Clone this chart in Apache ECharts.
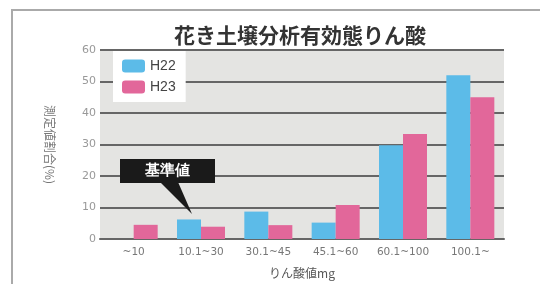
<!DOCTYPE html>
<html>
<head>
<meta charset="utf-8">
<script src="https://cdn.jsdelivr.net/npm/echarts@6/dist/echarts.min.js"></script>
<style>
  html, body { margin: 0; padding: 0; background: #fff; }
  #chart { width: 540px; height: 284px; }
</style>
</head>
<body>
<div id="chart"></div>
<script>
var categories = ['~10', '10.1~30', '30.1~45', '45.1~60', '60.1~100', '100.1~']
var h22 = [0, 6.2, 8.7, 5.2, 29.8, 52]
var h23 = [4.5, 3.9, 4.4, 10.8, 33.3, 45]
var yTicks = [0, 10, 20, 30, 40, 50, 60]

var chart = echarts.init(document.getElementById('chart'))
var option = {
  backgroundColor: '#fff',
  textStyle: { fontFamily: '"Noto Sans CJK JP", "Noto Sans", sans-serif' },
  title: {
    text: '花き土壌分析有効態りん酸',
    left: 169,
    top: 20,
    textStyle: { color: '#333', fontSize: 21, fontWeight: 'bold' }
  },
  legend: {
    orient: 'vertical',
    left: 113,
    top: 51,
    backgroundColor: '#fff',
    padding: [8, 10, 8, 9],
    itemWidth: 23,
    itemHeight: 13,
    itemGap: 7,
    textStyle: { color: '#444', fontSize: 14, fontFamily: '"Liberation Sans", sans-serif' },
    data: ['H22', 'H23']
  },
  grid: {
    left: 100,
    right: 36,
    top: 50,
    bottom: 45,
    show: true,
    backgroundColor: '#e4e4e2',
    borderWidth: 0
  },
  xAxis: {
    type: 'category',
    data: categories,
    name: 'りん酸値mg',
    nameLocation: 'middle',
    nameGap: 28,
    nameTextStyle: { color: '#555', fontSize: 12 },
    axisTick: { show: false },
    axisLine: { lineStyle: { color: '#666', width: 2 } },
    axisLabel: { interval: 0, color: '#777', fontSize: 10.5, margin: 8, fontFamily: '"DejaVu Sans", sans-serif' }
  },
  yAxis: {
    type: 'value',
    min: yTicks[0],
    max: yTicks[yTicks.length - 1],
    interval: 10,
    name: '測定値割合(%)',
    nameLocation: 'middle',
    nameRotate: -90,
    nameGap: 44,
    nameTextStyle: { color: '#777', fontSize: 12 },
    axisLine: { show: false },
    axisTick: { show: false },
    axisLabel: { color: '#999', fontSize: 11, margin: 4, fontFamily: '"DejaVu Sans", sans-serif' },
    splitLine: { lineStyle: { color: '#666', width: 2 } }
  },
  series: [
    {
      name: 'H22',
      type: 'bar',
      data: h22,
      barWidth: 24,
      barGap: '0%',
      itemStyle: { color: '#5cbbe8' }
    },
    {
      name: 'H23',
      type: 'bar',
      data: h23,
      barWidth: 24,
      itemStyle: { color: '#e2679a' }
    }
  ],
  graphic: [
    {
      type: 'rect',
      shape: { x: 12, y: 10, width: 560, height: 300 },
      style: { fill: 'none', stroke: '#aaa', lineWidth: 2 },
      silent: true
    },
    {
      type: 'polygon',
      shape: { points: [[160, 182], [178, 182], [192, 214]] },
      style: { fill: '#1a1a1a' },
      z: 100
    },
    {
      type: 'rect',
      shape: { x: 120, y: 159, width: 95, height: 24 },
      style: { fill: '#1a1a1a' },
      z: 100
    },
    {
      type: 'text',
      x: 167,
      y: 171,
      style: {
        text: '基準値',
        fill: '#fff',
        fontSize: 15,
        fontWeight: 'bold',
        align: 'center',
        verticalAlign: 'middle'
      },
      z: 101
    }
  ]
}
chart.setOption(option)
</script>
</body>
</html>
